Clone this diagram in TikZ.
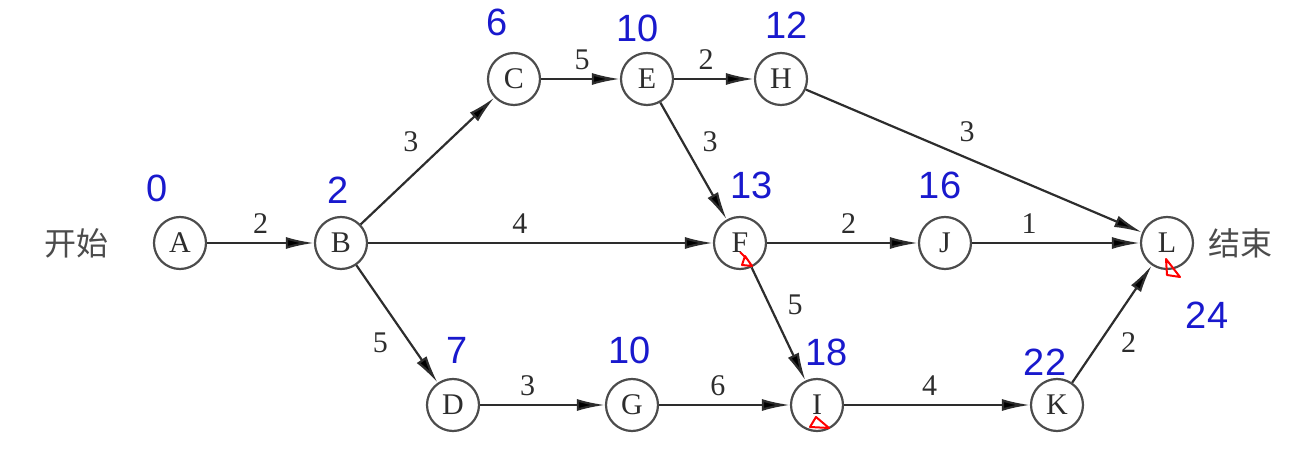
\documentclass[tikz,border=0pt]{standalone}
\usepackage{fontspec}
\setmainfont{Liberation Serif}
\newfontfamily\cjkfont{Noto Sans CJK SC}
\newfontfamily\handfont{Liberation Sans}
\usetikzlibrary{arrows.meta}
\definecolor{inkblue}{RGB}{25,25,205}
\definecolor{linegray}{RGB}{45,45,45}
\tikzset{>={Latex[length=14pt,width=6pt]},auto}
\tikzset{event/.style={circle,draw=linegray!85,line width=1.1pt,minimum size=26pt,inner sep=0pt,
        text=linegray,font=\fontsize{15}{15}\selectfont}}
\tikzset{weight/.style={text=linegray,inner sep=4pt,font=\fontsize{15}{15}\selectfont}}
\tikzset{etime/.style={text=inkblue,font=\handfont\fontsize{19}{19}\selectfont}}
\tikzset{redmark/.style={draw=red,line width=1pt,line join=round}}

\begin{document}
\begin{tikzpicture}[x=0.5pt,y=-0.5pt]
    \useasboundingbox (0,0) rectangle (1303,454);
                        % events
                        \node[event] (A) at (180,243) {A};
                        \node[event] (B) at (341,243) {B};
                        \node[event] (C) at (514,79)  {C};
                        \node[event] (E) at (647,79)  {E};
                        \node[event] (H) at (781,79)  {H};
                        \node[event] (F) at (740,243) {F};
                        \node[event] (J) at (945,243) {J};
                        \node[event] (L) at (1167,243) {L};
                        \node[event] (D) at (453,405) {D};
                        \node[event] (G) at (632,405) {G};
                        \node[event] (I) at (817,405) {I};
                        \node[event] (K) at (1057,405) {K};
                        \node[text=linegray!85,font=\cjkfont\fontsize{16}{16}\selectfont] (start) at (77,243) {开始};
                        \node[text=linegray!85,font=\cjkfont\fontsize{16}{16}\selectfont] (finish) at (1240,243) {结束};
                    \path[->,draw=linegray,line width=1.1pt]
                            (A) edge node[weight] {2} (B)
                            (B) edge node[weight] {3} (C)
                            (C) edge node[weight,pos=0.52] {5} (E)
                            (E) edge node[weight,pos=0.4] {2} (H)
                            (E) edge node[weight] {3} (F)
                            (H) edge node[weight,pos=0.43] {3} (L)
                            (B) edge node[weight,pos=0.44] {4} (F)
                            (F) edge node[weight,pos=0.54] {2} (J)
                            (J) edge node[weight,pos=0.34] {1} (L)
                            (F) edge node[weight] {5} (I)
                            (B) edge node[weight,swap] {5} (D)
                            (D) edge node[weight,pos=0.38] {3} (G)
                            (G) edge node[weight,pos=0.45] {6} (I)
                            (I) edge node[weight,pos=0.46] {4} (K)
                            (K) edge node[weight,swap] {2} (L)
                            ;
                        % earliest times
                        \node[etime] (tA) at (157,188) {0};
                        \node[etime] (tB) at (338,190) {2};
                        \node[etime] (tC) at (497,22)  {6};
                        \node[etime] (tE) at (638,28)  {10};
                        \node[etime] (tH) at (787,25)  {12};
                        \node[etime] (tF) at (752,185) {13};
                        \node[etime] (tJ) at (940,185) {16};
                        \node[etime] (tD) at (457,350) {7};
                        \node[etime] (tG) at (630,350) {10};
                        \node[etime] (tI) at (827,352) {18};
                        \node[etime] (tK) at (1045,362) {22};
                        \node[etime] (tL) at (1207,315) {24};
                        % critical marks
                        \draw[redmark] (742,265) -- (752,266) -- (745,256) -- cycle (740,252) -- (747,259);
                        \draw[redmark] (810,427) -- (829,428) -- (816,417) -- cycle;
                        \draw[redmark] (1166,259) -- (1167,275) -- (1180,277) -- cycle;
\end{tikzpicture}
\end{document}
